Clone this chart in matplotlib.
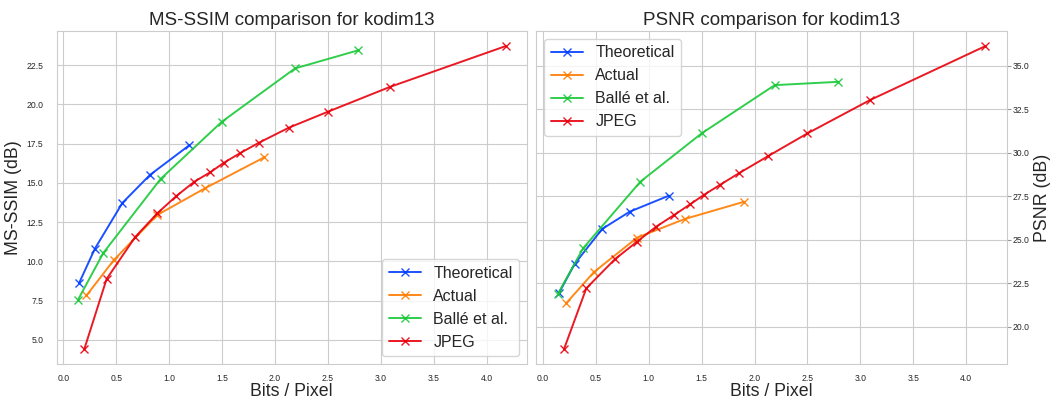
import matplotlib
matplotlib.use("Agg")
import matplotlib.pyplot as plt
import seaborn as sns

# bits per pixel for each method
theo_bpp = [0.15, 0.30, 0.56, 0.82, 1.19]
actual_bpp = [0.22, 0.48, 0.89, 1.34, 1.90]
balle_bpp = [0.14, 0.38, 0.92, 1.50, 2.19, 2.79]
jpeg_bpp = [0.20, 0.41, 0.68, 0.89, 1.07, 1.24, 1.39, 1.52, 1.67, 1.85, 2.13, 2.50, 3.09, 4.18]

# MS-SSIM (dB)
theo_msssim = [8.62, 10.82, 13.73, 15.51, 17.39]
actual_msssim = [7.83, 10.10, 12.96, 14.66, 16.63]
balle_msssim = [7.56, 10.55, 15.25, 18.90, 22.29, 23.45]
jpeg_msssim = [4.43, 8.88, 11.55, 13.07, 14.17, 15.08, 15.68, 16.29, 16.89, 17.56, 18.51, 19.53, 21.12, 23.71]

# PSNR (dB)
theo_psnr = [21.93, 23.62, 25.63, 26.62, 27.54]
actual_psnr = [21.36, 23.14, 25.13, 26.20, 27.19]
balle_psnr = [21.88, 24.52, 28.34, 31.12, 33.89, 34.08]
jpeg_psnr = [18.74, 22.22, 23.89, 24.90, 25.76, 26.43, 27.04, 27.58, 28.15, 28.82, 29.82, 31.12, 33.03, 36.13]

labels = ["Theoretical", "Actual", "Ballé et al.", "JPEG"]
image_name = "kodim13"

sns.set_style("whitegrid")
plt.rcParams['font.family'] = ['Liberation Sans', 'DejaVu Sans']
colors = sns.color_palette("bright")
line_colors = [colors[0], colors[1], colors[2], colors[3]]

fig, (ax1, ax2) = plt.subplots(1, 2, figsize=(10.53, 4.0), dpi=100)
fig.subplots_adjust(left=0.0538, right=0.956, bottom=0.09, top=0.9225, wspace=0.02)

xs = [theo_bpp, actual_bpp, balle_bpp, jpeg_bpp]
ms = [theo_msssim, actual_msssim, balle_msssim, jpeg_msssim]
ps = [theo_psnr, actual_psnr, balle_psnr, jpeg_psnr]

for x, y, lab, c in zip(xs, ms, labels, line_colors):
    ax1.plot(x, y, marker="x", label=lab, color=c, linewidth=1.4, markersize=5.5, alpha=0.9)
for x, y, lab, c in zip(xs, ps, labels, line_colors):
    ax2.plot(x, y, marker="x", label=lab, color=c, linewidth=1.4, markersize=5.5, alpha=0.9)

ax1.set_title("MS-SSIM comparison for " + image_name, fontsize=13.5, pad=4, color=".15")
ax1.set_xlabel("Bits / Pixel", fontsize=12.8, labelpad=0, color=".15")
ax1.set_ylabel("MS-SSIM (dB)", fontsize=12.8, labelpad=3, color=".15")
ax1.legend(loc="lower right", fontsize=11.5)

ax2.set_title("PSNR comparison for " + image_name, fontsize=13.5, pad=4, color=".15")
ax2.set_xlabel("Bits / Pixel", fontsize=12.8, labelpad=0, color=".15")
ax2.yaxis.tick_right()
ax2.yaxis.set_label_position("right")
ax2.set_ylabel("PSNR (dB)", fontsize=12.8, labelpad=3, color=".15")
ax2.legend(loc="upper left", fontsize=11.5)

for ax in (ax1, ax2):
    ax.tick_params(axis="x", labelsize=6.2, pad=3.5, labelcolor=".15")
    ax.set_xticks([0.0, 0.5, 1.0, 1.5, 2.0, 2.5, 3.0, 3.5, 4.0])
ax1.tick_params(axis="y", labelsize=6.2, pad=6, labelcolor=".15")
ax2.tick_params(axis="y", labelsize=6.2, pad=1.5, length=3, width=0.8, color=".6", labelcolor=".15")

fig.savefig("out.png", dpi=100)
